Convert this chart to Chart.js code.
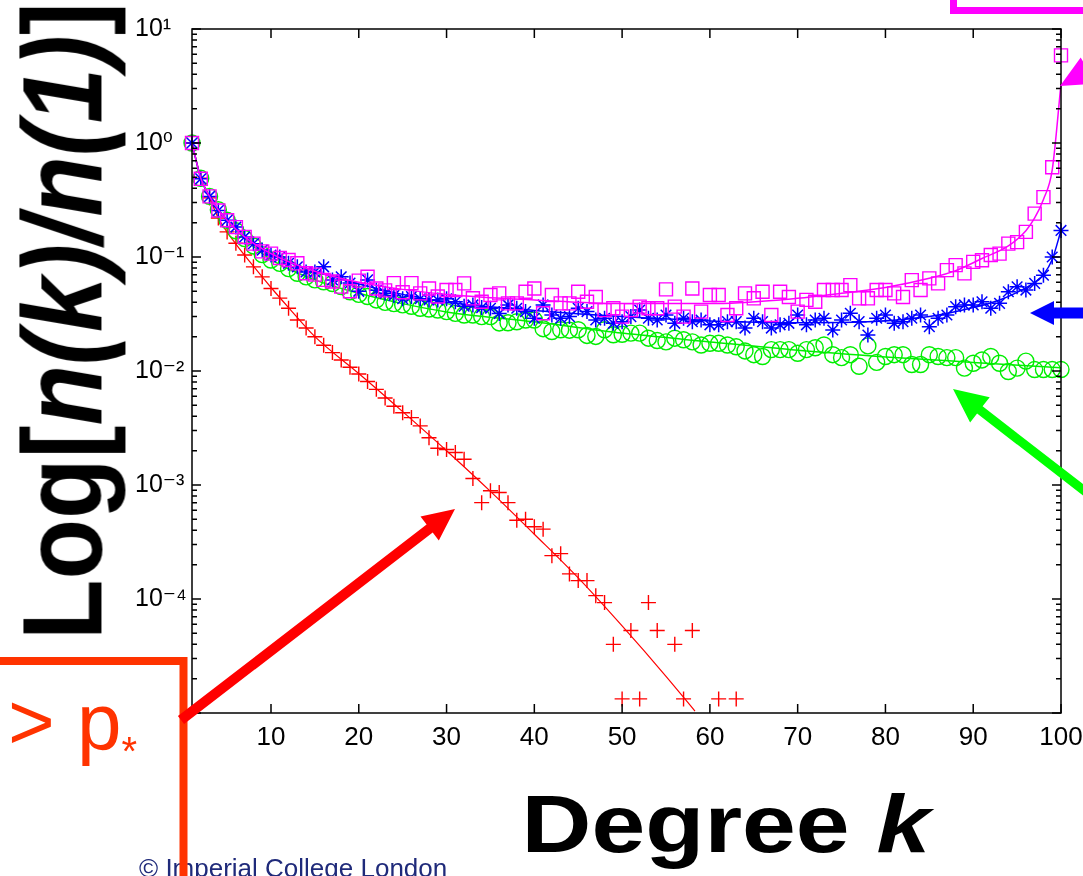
<!DOCTYPE html>
<html><head><meta charset="utf-8">
<script src="https://cdn.jsdelivr.net/npm/chart.js@4.4.1/dist/chart.umd.min.js"></script>
<style>
html,body{margin:0;padding:0;background:#fff;}
#wrap{position:relative;width:1083px;height:876px;overflow:hidden;background:#fff;font-family:'Liberation Sans',Arial,sans-serif;}
#c{position:absolute;left:0;top:0;}
.ov{position:absolute;white-space:nowrap;line-height:1;}
#ytitle{font-weight:bold;font-size:99px;color:#000;left:62px;top:321px;transform:translate(-50%,-50%) scaleX(1.145) rotate(-90deg);}
#xtitle{font-weight:bold;font-size:82px;color:#000;left:726px;top:783px;transform:translateX(-50%) scaleX(1.18);}
#pstar{font-size:80px;color:#ff3300;left:8px;top:682px;}
#pstar span{font-size:40px;vertical-align:-16px;}
#copy{font-size:26px;color:#1f2a7a;left:139px;top:855px;}
#svg{position:absolute;left:0;top:0;}
</style></head><body>
<div id="wrap">
<canvas id="c" width="1083" height="876"></canvas>
<div id="ytitle" class="ov">Log[<i>n(k)/n(1)</i>]</div>
<div id="xtitle" class="ov">Degree <i>k</i></div>
<div id="pstar" class="ov">&gt; p<span>*</span></div>
<div id="copy" class="ov">© Imperial College London</div>
<svg id="svg" width="1083" height="876"></svg>
</div>
<script>
// ---------- data ----------
const xTickValues = [10,20,30,40,50,60,70,80,90,100];
const yTickExponents = [1,0,-1,-2,-3,-4];

const kAll = [1,2,3,4,5,6,7,8,9,10,11,12,13,14,15,16,17,18,19,20,21,22,23,24,25,26,27,28,29,30,
31,32,33,34,35,36,37,38,39,40,41,42,43,44,45,46,47,48,49,50,51,52,53,54,55,56,57,58,59,60,
61,62,63,64,65,66,67,68,69,70,71,72,73,74,75,76,77,78,79,80,81,82,83,84,85,86,87,88,89,90,
91,92,93,94,95,96,97,98,99,100];

const redK = [1,2,3,4,5,6,7,8,9,10,11,12,13,14,15,16,17,18,19,20,21,22,23,24,25,26,27,28,29,30,
31,32,33,34,35,36,37,38,39,40,41,42,43,44,45,46,47,48,49,50,51,52,53,54,56,57,58,61,63];
const redVals = [1.0,0.49,0.33,0.22,0.166,0.132,0.104,0.082,0.067,0.053,0.0436,0.0355,0.028,0.0238,0.020,
0.0168,0.0145,0.0125,0.0108,0.0094,0.0081,0.0069,0.0058,0.0049,0.0043,0.0039,0.0033,0.0026,0.0021,0.00205,
0.00193,0.00168,0.00114,0.00070,0.00089,0.00086,0.00070,0.00049,0.00050,0.00043,0.00041,0.00024,0.00025,
0.000166,0.000145,0.000145,0.000107,0.000093,0.000040,0.0000133,0.000053,0.0000133,0.000093,0.000053,
0.000040,0.0000133,0.000053,0.0000133,0.0000133];

const greenVals = [1.0,0.49,0.34,0.26,0.21,0.17,0.145,0.125,0.105,0.094,0.088,0.079,0.072,0.067,0.063,
0.0606,0.0585,0.055,0.0495,0.047,0.045,0.042,0.040,0.039,0.038,0.037,0.0355,0.035,0.0343,0.0332,
0.032,0.031,0.031,0.030,0.030,0.0264,0.0265,0.027,0.028,0.028,0.0235,0.0222,0.023,0.0228,0.023,
0.0205,0.0201,0.023,0.0208,0.021,0.0215,0.0215,0.0194,0.0185,0.018,0.0194,0.0188,0.018,0.0169,0.0175,
0.0175,0.0169,0.0163,0.0150,0.0139,0.0134,0.0154,0.0154,0.0154,0.0143,0.0154,0.016,0.0169,0.0139,0.0131,
0.0139,0.011,0.0166,0.0119,0.0134,0.0139,0.0139,0.0114,0.0114,0.0139,0.0134,0.0131,0.0131,0.0106,0.0117,
0.0125,0.0134,0.0117,0.0099,0.0106,0.0122,0.0103,0.0103,0.0103,0.0103];

const blueVals = [1.0,0.485,0.34,0.256,0.21,0.183,0.150,0.131,0.115,0.104,0.100,0.088,0.082,0.074,0.074,
0.082,0.063,0.067,0.059,0.050,0.063,0.051,0.048,0.046,0.043,0.045,0.043,0.042,0.042,0.043,
0.0405,0.037,0.038,0.036,0.0355,0.032,0.038,0.0355,0.0332,0.029,0.038,0.031,0.029,0.030,0.0355,
0.0332,0.028,0.029,0.0262,0.0271,0.030,0.0342,0.029,0.028,0.031,0.0262,0.029,0.0271,0.028,0.0254,
0.0254,0.0271,0.0271,0.0238,0.029,0.0271,0.0238,0.0254,0.0262,0.031,0.0254,0.028,0.029,0.0229,0.028,
0.0321,0.0271,0.0207,0.029,0.031,0.0262,0.0271,0.029,0.031,0.0245,0.029,0.031,0.0367,0.038,0.038,
0.0405,0.0355,0.0392,0.0496,0.0548,0.0513,0.0587,0.0693,0.100,0.171];

const magentaVals = [1.0,0.485,0.34,0.256,0.21,0.183,0.150,0.131,0.112,0.107,0.098,0.094,0.088,0.072,0.070,
0.063,0.061,0.055,0.050,0.062,0.067,0.053,0.051,0.059,0.049,0.059,0.048,0.053,0.045,0.0513,
0.0513,0.0587,0.0434,0.0405,0.0464,0.048,0.0392,0.0392,0.0496,0.053,0.0321,0.0464,0.0392,0.0392,0.0496,
0.0405,0.0446,0.0342,0.0355,0.030,0.0342,0.0367,0.0355,0.0355,0.052,0.0367,0.030,0.053,0.0332,0.0464,
0.0464,0.031,0.0355,0.048,0.0434,0.0496,0.031,0.0496,0.0446,0.0332,0.0421,0.0405,0.0513,0.0513,0.0513,
0.0567,0.0434,0.0434,0.0513,0.0513,0.048,0.0446,0.0627,0.0513,0.0649,0.0587,0.0767,0.0848,0.0718,0.0906,
0.0937,0.104,0.107,0.131,0.135,0.166,0.24,0.335,0.612,5.87];

const redFitK = [1,2,3,4,5,6,8,10,12,15,20,25,30,35,40,45,50,55,58.3];
const redFitV = [1,0.5,0.33,0.22,0.165,0.13,0.083,0.054,0.036,0.020,0.0095,0.0044,0.0020,0.00088,0.00037,0.000153,0.000058,0.000021,0.0000104];
const greenFitK = [1,2,3,4,5,7,10,15,20,25,30,40,50,60,70,80,90,100];
const greenFitV = [1,0.49,0.34,0.26,0.21,0.145,0.095,0.063,0.048,0.039,0.033,0.027,0.0215,0.018,0.0152,0.0133,0.0119,0.0107];
const blueFitK = [1,2,3,4,5,7,10,15,20,25,30,40,50,60,70,78,85,90,93,95,97,98,99,100];
const blueFitV = [1,0.49,0.34,0.26,0.21,0.15,0.105,0.075,0.058,0.047,0.040,0.034,0.030,0.0275,0.0265,0.027,0.030,0.036,0.042,0.049,0.060,0.070,0.095,0.171];
const magentaFitK = [1,2,3,4,5,7,10,15,20,25,30,40,50,60,68,75,80,85,88,91,94,96,97,98,99,100];
const magentaFitV = [1,0.49,0.34,0.26,0.21,0.15,0.107,0.075,0.060,0.052,0.047,0.042,0.039,0.039,0.042,0.048,0.054,0.065,0.076,0.097,0.125,0.17,0.22,0.32,0.58,3.3];

// ---------- chart ----------
const FONT = "'Liberation Sans', 'DejaVu Sans', Arial, sans-serif";
const pts = (ks, vs) => ks.map((k, i) => ({x: k, y: vs[i]}));
const SUP = {'-':'\u207B','0':'\u2070','1':'\u00B9','2':'\u00B2','3':'\u00B3','4':'\u2074','5':'\u2075'};

function markers(ks, vs, color, style, r, w, order) {
  return {data: pts(ks, vs), showLine: false, borderColor: color, backgroundColor: 'transparent',
    pointStyle: style, pointRadius: r, pointBorderWidth: w, pointBorderColor: color,
    pointBackgroundColor: 'transparent', clip: false, order: order};
}
function fitLine(ks, vs, color, w, order) {
  return {data: pts(ks, vs), showLine: true, borderColor: color, borderWidth: w, pointRadius: 0,
    cubicInterpolationMode: 'monotone', fill: false, clip: false, order: order};
}

const frame = {
  id: 'frame',
  afterDraw(chart) {
    const {ctx, chartArea: a, scales: {x, y}} = chart;
    ctx.save();
    ctx.strokeStyle = '#000';
    ctx.lineWidth = 1.5;
    ctx.strokeRect(a.left, a.top, a.right - a.left, a.bottom - a.top);
    ctx.beginPath();
    xTickValues.forEach(v => {
      const px = x.getPixelForValue(v);
      ctx.moveTo(px, a.bottom); ctx.lineTo(px, a.bottom - 9);
      ctx.moveTo(px, a.top); ctx.lineTo(px, a.top + 9);
    });
    for (let e = -5; e <= 1; e++) {
      for (let m = 1; m <= 9; m++) {
        const v = m * Math.pow(10, e);
        if (v > y.max * 1.0001) continue;
        const py = y.getPixelForValue(v);
        const L = m === 1 ? 9 : 5;
        ctx.moveTo(a.left, py); ctx.lineTo(a.left + L, py);
        ctx.moveTo(a.right, py); ctx.lineTo(a.right - L, py);
      }
    }
    ctx.stroke();
    ctx.restore();
  }
};

new Chart(document.getElementById('c'), {
  type: 'line',
  data: {datasets: [
    markers(kAll, magentaVals, '#ff00ff', 'rect', 9.2, 1.4, 0),
    fitLine(magentaFitK, magentaFitV, '#ff00ff', 1.5, 1),
    markers(kAll, blueVals, '#0000ff', 'star', 7.5, 1.5, 2),
    fitLine(blueFitK, blueFitV, '#0000ff', 1.5, 3),
    markers(kAll, greenVals, '#00ee00', 'circle', 8, 1.4, 4),
    fitLine(greenFitK, greenFitV, '#00ee00', 1.5, 5),
    markers(redK, redVals, '#ff0000', 'cross', 7.5, 1.4, 6),
    fitLine(redFitK, redFitV, '#ff0000', 1.2, 7)
  ]},
  options: {
    responsive: false, animation: false, events: [],
    layout: {padding: {left: 135, right: 22, top: 29, bottom: 0}},
    plugins: {legend: {display: false}, tooltip: {enabled: false}},
    scales: {
      x: {type: 'linear', min: 1, max: 100,
        afterBuildTicks: s => { s.ticks = xTickValues.map(v => ({value: v})); },
        afterFit: s => { s.height = 163; s.paddingLeft = 0; s.paddingRight = 0; },
        grid: {display: false, drawTicks: false}, border: {display: false},
        ticks: {padding: 9, color: '#000', font: {family: FONT, size: 26}, maxRotation: 0, autoSkip: false}},
      y: {type: 'logarithmic', min: 1e-5, max: 10,
        afterBuildTicks: s => { s.ticks = yTickExponents.map(e => ({value: Math.pow(10, e)})); },
        afterFit: s => { s.width = 57; s.paddingTop = 0; s.paddingBottom = 0; },
        grid: {display: false, drawTicks: false}, border: {display: false},
        ticks: {crossAlign: 'far', color: '#000', font: {family: FONT, size: 25}, autoSkip: false,
          callback: v => '10' + String(Math.round(Math.log10(v))).split('').map(c => SUP[c]).join('')}}
    }
  },
  plugins: [frame]
});

// ---------- annotations (arrows and boxes) ----------
function arrowPts(x1, y1, x2, y2, sw, hl, hw) {
  const dx = x2 - x1, dy = y2 - y1, L = Math.hypot(dx, dy), ux = dx / L, uy = dy / L, nx = -uy, ny = ux;
  const bx = x2 - ux * hl, by = y2 - uy * hl;
  const p = [[x1 + nx*sw/2, y1 + ny*sw/2], [bx + nx*sw/2, by + ny*sw/2], [bx + nx*hw/2, by + ny*hw/2], [x2, y2],
             [bx - nx*hw/2, by - ny*hw/2], [bx - nx*sw/2, by - ny*sw/2], [x1 - nx*sw/2, y1 - ny*sw/2]];
  return p.map(q => q[0].toFixed(1) + ',' + q[1].toFixed(1)).join(' ');
}
const svg = document.getElementById('svg');
svg.innerHTML =
  '<rect x="953.5" y="-20" width="200" height="30.5" fill="none" stroke="#ff00ff" stroke-width="7"/>' +
  '<polyline points="-10,661 183.5,661 183.5,900" fill="none" stroke="#ff3300" stroke-width="8"/>' +
  '<polygon fill="#ff0000" points="' + arrowPts(181, 720, 455, 509, 10, 32, 30) + '"/>' +
  '<polygon fill="#00ff00" points="' + arrowPts(1100, 503, 953, 389, 9, 34, 32) + '"/>' +
  '<polygon fill="#0000ff" points="' + arrowPts(1095, 313, 1030, 313, 11, 24, 24) + '"/>' +
  '<polygon fill="#ff00ff" points="' + arrowPts(1125, 50, 1060, 86, 9, 32, 30) + '"/>';
</script>
</body></html>
